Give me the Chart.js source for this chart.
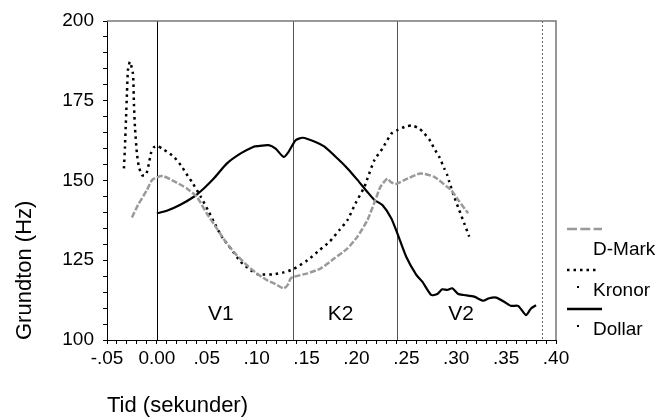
<!DOCTYPE html>
<html>
<head>
<script src="https://cdn.jsdelivr.net/npm/chart.js@4.4.0/dist/chart.umd.min.js"></script>
<style>
  body { margin: 0; background: #fff; }
  #wrap { width: 657px; height: 417px; }
</style>
</head>
<body>
<div id="wrap"><canvas id="f0" width="657" height="417"></canvas></div>
<script>
// Tid (s) och grundton (Hz)
const dmarkTid = [-0.025, -0.019, -0.010, -0.005, 0.000, 0.006, 0.017, 0.030, 0.040, 0.050, 0.060, 0.070, 0.080, 0.090, 0.100, 0.110, 0.119, 0.127, 0.131, 0.134, 0.137, 0.151, 0.164, 0.178, 0.191, 0.201, 0.211, 0.219, 0.224, 0.231, 0.234, 0.239, 0.248, 0.264, 0.278, 0.291, 0.295, 0.302, 0.312];
const dmarkHz  = [138.4, 142.3, 147.0, 150.1, 151.0, 151.4, 149.8, 147.5, 144.9, 139.7, 135.0, 130.3, 126.6, 123.5, 120.9, 118.8, 117.5, 116.2, 117.2, 119.3, 119.8, 120.9, 122.4, 125.6, 128.7, 132.4, 137.6, 143.9, 148.0, 150.6, 149.6, 148.9, 150.1, 152.2, 151.1, 148.0, 147.0, 143.9, 139.7];

const kronorTid = [-0.033, -0.032, -0.031, -0.030, -0.029, -0.027, -0.024, -0.023, -0.022, -0.020, -0.018, -0.015, -0.011, -0.008, -0.006, -0.003, 0.000, 0.007, 0.017, 0.024, 0.031, 0.035, 0.044, 0.052, 0.057, 0.065, 0.074, 0.084, 0.094, 0.101, 0.117, 0.127, 0.136, 0.151, 0.163, 0.173, 0.183, 0.191, 0.199, 0.208, 0.211, 0.218, 0.226, 0.235, 0.241, 0.250, 0.256, 0.263, 0.268, 0.273, 0.278, 0.283, 0.288, 0.291, 0.293, 0.298, 0.303, 0.308, 0.313];
const kronorHz  = [153.8, 160.6, 168.9, 177.3, 184.6, 187.2, 183.5, 174.1, 166.8, 158.5, 154.3, 151.7, 151.7, 155.3, 158.5, 160.4, 160.8, 159.7, 157.4, 154.8, 151.4, 149.6, 144.9, 140.2, 137.1, 132.4, 128.7, 124.5, 121.9, 120.6, 120.6, 121.2, 122.1, 125.0, 128.2, 130.8, 134.5, 137.6, 142.8, 148.0, 150.6, 156.4, 160.0, 164.7, 165.8, 167.0, 167.2, 166.3, 164.7, 162.9, 160.0, 157.4, 153.8, 151.7, 149.6, 144.9, 140.7, 136.6, 132.4];

const dollarTid = [0.000, 0.010, 0.023, 0.037, 0.047, 0.057, 0.070, 0.084, 0.097, 0.101, 0.112, 0.119, 0.127, 0.132, 0.139, 0.146, 0.159, 0.168, 0.181, 0.191, 0.201, 0.211, 0.218, 0.226, 0.235, 0.241, 0.250, 0.260, 0.266, 0.275, 0.281, 0.286, 0.291, 0.296, 0.302, 0.308, 0.318, 0.327, 0.333, 0.340, 0.348, 0.355, 0.362, 0.370, 0.375, 0.380];
const dollarHz  = [139.7, 140.5, 142.3, 144.9, 147.5, 150.6, 155.3, 158.5, 160.6, 160.8, 161.1, 160.0, 157.4, 159.0, 162.6, 163.4, 162.1, 160.6, 156.9, 153.8, 150.2, 146.4, 143.9, 142.3, 138.1, 133.4, 126.0, 120.4, 118.3, 114.1, 114.4, 115.9, 115.7, 116.2, 114.4, 114.1, 113.6, 112.3, 113.1, 113.3, 112.0, 110.7, 110.7, 107.8, 109.9, 110.9];

const serier = ['D-Mark', 'Kronor', 'Dollar'];
const granser = [0.0, 0.136, 0.241];      // segmentgränser
const slutGrans = 0.386;                   // streckad slutlinje
const segment = ['V1', 'K2', 'V2'];
const segmentTid = [0.064, 0.184, 0.305];
const segmentHz = 108;

const FONT = "'Liberation Sans', Arial, sans-serif";

function punkter(tid, hz) {
  return tid.map((t, i) => ({ x: t, y: hz[i] }));
}

function tidEtikett(v) {
  const c = Math.round(v * 100);
  if (c % 5 !== 0) return '';
  if (c === 0) return '0.00';
  const s = (Math.abs(c) / 100).toFixed(2).replace(/^0/, '');
  return (c < 0 ? '-' : '') + s;
}

// gränslinjer, ram och segmentnamn
const ramPlugin = {
  id: 'ram',
  beforeDatasetsDraw(chart) {
    const { ctx, chartArea: a, scales: { x, y } } = chart;
    ctx.save();
    ctx.lineWidth = 1;
    granser.forEach((g, i) => {
      const px = Math.round(x.getPixelForValue(g)) + 0.5;
      ctx.strokeStyle = i === 0 ? '#000' : '#555';
      ctx.beginPath(); ctx.moveTo(px, a.top); ctx.lineTo(px, a.bottom); ctx.stroke();
    });
    const pd = Math.round(x.getPixelForValue(slutGrans)) + 0.5;
    ctx.strokeStyle = '#666';
    ctx.setLineDash([2, 2]);
    ctx.beginPath(); ctx.moveTo(pd, a.top); ctx.lineTo(pd, a.bottom); ctx.stroke();
    ctx.setLineDash([]);
    // topp- och högerkant
    ctx.strokeStyle = '#777';
    ctx.lineWidth = 1.5;
    ctx.beginPath();
    ctx.moveTo(a.left, a.top); ctx.lineTo(a.right, a.top); ctx.lineTo(a.right, a.bottom);
    ctx.stroke();
    // segmentnamn
    ctx.fillStyle = '#000';
    ctx.font = '21px ' + FONT;
    ctx.textAlign = 'center';
    ctx.textBaseline = 'middle';
    segment.forEach((s, i) => {
      ctx.fillText(s, x.getPixelForValue(segmentTid[i]), y.getPixelForValue(segmentHz));
    });
    ctx.restore();
  }
};

// teckenförklaring till höger
const legendPlugin = {
  id: 'teckenf',
  afterDraw(chart) {
    const ctx = chart.ctx;
    ctx.save();
    ctx.font = '19px ' + FONT;
    ctx.fillStyle = '#000';
    ctx.textAlign = 'left';
    ctx.textBaseline = 'middle';
    const rader = [
      { y: 229, color: '#999', dash: [10, 3.3], w: 2.5, x2: 602, dot: false },
      { y: 270, color: '#000', dash: [2.5, 4], w: 2.5, x2: 598, dot: true },
      { y: 309, color: '#000', dash: [], w: 2.5, x2: 602, dot: true }
    ];
    rader.forEach((r, i) => {
      ctx.strokeStyle = r.color;
      ctx.lineWidth = r.w;
      ctx.setLineDash(r.dash);
      ctx.beginPath(); ctx.moveTo(567, r.y); ctx.lineTo(r.x2, r.y); ctx.stroke();
      ctx.setLineDash([]);
      if (r.dot) ctx.fillRect(577, r.y + 16, 2, 2);
      ctx.fillText(serier[i], 593, r.y + 21);
    });
    ctx.restore();
  }
};

new Chart(document.getElementById('f0'), {
  type: 'line',
  data: {
    datasets: [
      { label: serier[0], data: punkter(dmarkTid, dmarkHz), borderColor: '#9a9a9a', borderWidth: 2.5, borderDash: [6, 2] },
      { label: serier[1], data: punkter(kronorTid, kronorHz), borderColor: '#000', borderWidth: 2.5, borderDash: [2.5, 4] },
      { label: serier[2], data: punkter(dollarTid, dollarHz), borderColor: '#000', borderWidth: 2.2 }
    ]
  },
  options: {
    responsive: false,
    animation: false,
    devicePixelRatio: 1,
    layout: { padding: { top: 21, right: 101, bottom: 0, left: 0 } },
    elements: { point: { radius: 0 }, line: { tension: 0.2, fill: false } },
    plugins: { legend: { display: false }, tooltip: { enabled: false } },
    scales: {
      x: {
        type: 'linear',
        min: -0.05, max: 0.40,
        afterFit: s => { s.height = 77; },
        border: { color: '#000', width: 1 },
        grid: { drawOnChartArea: false, tickLength: 4, color: '#000' },
        ticks: {
          stepSize: 0.01, autoSkip: false, maxRotation: 0, padding: 3,
          color: '#000', font: { family: FONT, size: 19 },
          callback: tidEtikett
        },
        title: {
          display: true, text: 'Tid (sekunder)', align: 'start', color: '#000',
          font: { family: FONT, size: 22, lineHeight: 1 }, padding: { top: 0, bottom: 0 }
        }
      },
      y: {
        min: 100, max: 200,
        afterFit: s => { s.width = 107; },
        border: { color: '#000', width: 1 },
        grid: { drawOnChartArea: false, tickLength: 4, color: '#000' },
        ticks: {
          stepSize: 5, autoSkip: false, padding: 9, color: '#000', font: { family: FONT, size: 19 },
          callback: v => (v % 25 === 0 ? v : '')
        },
        title: {
          display: true, text: 'Grundton (Hz)', align: 'start', color: '#000',
          font: { family: FONT, size: 22, lineHeight: 1 }, padding: { top: 14, bottom: 0 }
        }
      }
    }
  },
  plugins: [ramPlugin, legendPlugin]
});
</script>
</body>
</html>
